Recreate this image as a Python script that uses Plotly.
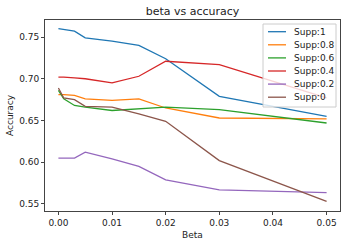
import plotly.graph_objects as go

beta = [0, 0.001, 0.003, 0.005, 0.01, 0.015, 0.02, 0.03, 0.05]
supp_1 = [0.760, 0.759, 0.757, 0.749, 0.745, 0.740, 0.724, 0.679, 0.655]
supp_08 = [0.681, 0.681, 0.680, 0.676, 0.674, 0.676, 0.665, 0.653, 0.652]
supp_06 = [0.686, 0.676, 0.668, 0.666, 0.662, 0.664, 0.666, 0.663, 0.647]
supp_04 = [0.702, 0.702, 0.701, 0.700, 0.695, 0.703, 0.721, 0.717, 0.677]
supp_02 = [0.605, 0.605, 0.605, 0.612, 0.604, 0.595, 0.579, 0.567, 0.5635]
supp_0 = [0.689, 0.677, 0.675, 0.667, 0.666, 0.658, 0.649, 0.602, 0.553]

names = ["Supp:1", "Supp:0.8", "Supp:0.6", "Supp:0.4", "Supp:0.2", "Supp:0"]
values = [supp_1, supp_08, supp_06, supp_04, supp_02, supp_0]
colors = ["#1f77b4", "#ff7f0e", "#2ca02c", "#d62728", "#9467bd", "#8c564b"]

W, H = 345, 245
L, R, T, B = 45, 5, 20, 34
PW, PH = W - L - R, H - T - B


def px_x(p):
    return (p - L) / PW


def px_y(p):
    return 1 - (p - T) / PH


font = "DejaVu Sans"
fig = go.Figure()
for name, vals, col in zip(names, values, colors):
    fig.add_trace(go.Scatter(x=beta, y=vals, mode="lines", name=name,
                             line=dict(color=col, width=1.3)))

shapes = [dict(type="rect", xref="paper", yref="paper", layer="above",
               x0=px_x(263), x1=px_x(336), y0=px_y(107), y1=px_y(24),
               fillcolor="rgba(255,255,255,0.8)", line=dict(color="#cccccc", width=1))]
annotations = []
for i, (name, col) in enumerate(zip(names, colors)):
    yc = 31.7 + i * 13.1
    shapes.append(dict(type="line", xref="paper", yref="paper", layer="above",
                       x0=px_x(268), x1=px_x(286), y0=px_y(yc), y1=px_y(yc),
                       line=dict(color=col, width=1.3)))
    annotations.append(dict(text=name, xref="paper", yref="paper", x=px_x(292), y=px_y(yc),
                            xanchor="left", yanchor="middle", showarrow=False,
                            font=dict(size=9, family=font, color="#222")))

annotations.append(dict(text="Beta", xref="paper", yref="paper", x=px_x(192), y=px_y(235),
                        xanchor="center", yanchor="middle", showarrow=False,
                        font=dict(size=9, family=font, color="#222")))
annotations.append(dict(text="Accuracy", xref="paper", yref="paper", x=px_x(10), y=px_y(115),
                        xanchor="center", yanchor="middle", showarrow=False, textangle=-90,
                        font=dict(size=9, family=font, color="#222")))

fig.update_layout(
    width=W, height=H,
    margin=dict(l=L, r=R, t=T, b=B),
    paper_bgcolor="white", plot_bgcolor="white",
    font=dict(family=font, size=9, color="#222"),
    title=dict(text="beta vs accuracy", x=(L + 340) / 2 / W, xanchor="center",
               y=1 - 11 / H, yanchor="middle", font=dict(size=11, family=font, color="#222")),
    showlegend=False,
    hovermode=False,
    shapes=shapes,
    annotations=annotations,
)
fig.update_xaxes(range=[-0.0025, 0.0525], tickvals=[0, 0.01, 0.02, 0.03, 0.04, 0.05],
                 tickformat=".2f", showgrid=False, zeroline=False, automargin=False,
                 showline=True, linecolor="#444", linewidth=1, mirror=True,
                 ticks="outside", ticklen=3, tickcolor="#444")
fig.update_yaxes(range=[0.5416, 0.7704], tickvals=[0.55, 0.60, 0.65, 0.70, 0.75],
                 tickformat=".2f", showgrid=False, zeroline=False, automargin=False,
                 showline=True, linecolor="#444", linewidth=1, mirror=True,
                 ticks="outside", ticklen=3, tickcolor="#444")

fig.write_html("out.html", config={"displayModeBar": False, "staticPlot": True},
               post_script="document.body.style.margin='0px';document.body.style.overflow='hidden';")
